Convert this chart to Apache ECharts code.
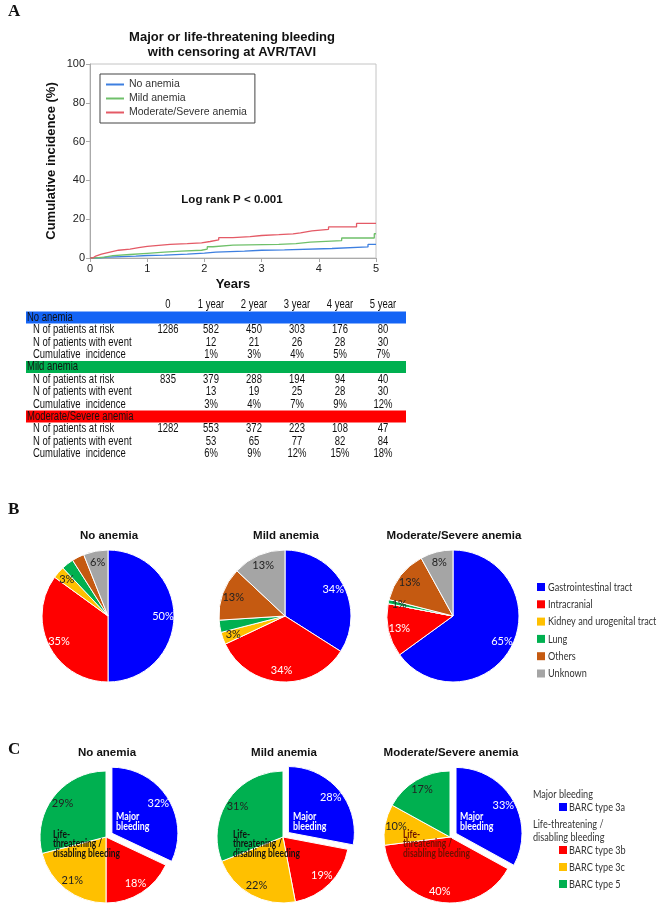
<!DOCTYPE html>
<html>
<head>
<meta charset="utf-8">
<script src="https://cdn.jsdelivr.net/npm/echarts@6/dist/echarts.min.js"></script>
<style>
html, body { margin: 0; padding: 0; background: #fff; }
#chart { width: 660px; height: 906px; }
</style>
</head>
<body>
<div id="chart"></div>
<script>
// ---- panel A: cumulative incidence curves, [years, %]
const groupNames = ['No anemia', 'Mild anemia', 'Moderate/Severe anemia'];
const noAnemiaCurve = [[0, 0], [0.15, 0.5], [0.3, 1], [0.8, 1.3], [1.0, 1.5], [1.3, 2], [1.7, 2.5], [2.0, 3], [2.2, 3.5], [2.7, 4], [3.0, 4.2], [3.4, 4.9], [4.23, 5.7], [4.86, 7], [5, 7]];
const mildCurve = [[0, 0], [0.1, 0.5], [0.25, 1.2], [0.4, 1.8], [0.7, 2.4], [1.0, 3], [1.3, 3.5], [1.6, 4], [1.95, 4.6], [2.05, 5.8], [2.15, 6.6], [2.5, 7], [3.3, 7.4], [3.6, 8.2], [3.85, 9], [4.4, 10.3], [4.97, 12.5], [5, 12.5]];
const modSevCurve = [[0, 0], [0.05, 1], [0.1, 2], [0.2, 3], [0.35, 4], [0.5, 4.6], [0.7, 5.3], [0.85, 6], [1.0, 6.5], [1.2, 7], [1.4, 7.4], [1.7, 7.8], [1.95, 8.5], [2.1, 9.3], [2.25, 10.5], [2.5, 11], [2.8, 11.6], [3.0, 12], [3.3, 12.4], [3.55, 13], [3.68, 14], [3.88, 14.8], [4.17, 16], [4.66, 17.8], [5, 17.8]];

// ---- risk table
const tableCols = ['0', '1 year', '2 year', '3 year', '4 year', '5 year'];
const rowLabels = ['N of patients at risk', 'N of patients with event', 'Cumulative  incidence'];
const atRisk = [[1286, 582, 450, 303, 176, 80], [835, 379, 288, 194, 94, 40], [1282, 553, 372, 223, 108, 47]];
const withEvent = [[null, 12, 21, 26, 28, 30], [null, 13, 19, 25, 28, 30], [null, 53, 65, 77, 82, 84]];
const cumIncidence = [[null, 1, 3, 4, 5, 7], [null, 3, 4, 7, 9, 12], [null, 6, 9, 12, 15, 18]];

// ---- panel B: bleeding site (%)
const siteNames = ['Gastrointestinal tract', 'Intracranial', 'Kidney and urogenital tract', 'Lung', 'Others', 'Unknown'];
const siteNoAnemia = [50, 35, 3, 3, 3, 6];
const siteMild = [34, 34, 3, 3, 13, 13];
const siteModSev = [65, 13, 0, 1, 13, 8];

// ---- panel C: BARC type (%)
const barcNames = ['BARC type 3a', 'BARC type 3b', 'BARC type 3c', 'BARC type 5'];
const barcNoAnemia = [32, 18, 21, 29];
const barcMild = [28, 19, 22, 31];
const barcModSev = [33, 40, 10, 17];

// styles
const lineColors = ['#3d7fe0', '#6fc06a', '#e45a66'];
const barColors = ['#1464f5', '#00b050', '#ff0000'];
const siteColors = ['#0000ff', '#ff0000', '#ffc000', '#00b050', '#c55a11', '#a5a5a5'];
const siteLabelColors = ['#fff', '#fff', '#222', '#222', '#222', '#222'];
const barcColors = ['#0000ff', '#ff0000', '#ffc000', '#00b050'];
const barcLabelColors = ['#fff', '#fff', '#222', '#222'];

const SANS = '"Liberation Sans", Arial, sans-serif';
const CAL = 'Lato, "Open Sans", sans-serif';
const SERIF = '"Liberation Serif", serif';

const pieXB = [108, 285, 453];
const pieXC = [106, 283, 450];
const pieYB = 616;
const pieYC = 837;
const pieR = 66;

// text element; sx squeezes the text horizontally around its anchor
function txt(text, x, y, opts) {
    opts = opts || {};
    return {
        type: 'text', silent: true, z: 100,
        x: x, y: y, scaleX: opts.sx || 1,
        style: {
            text: text, x: 0, y: 0,
            fill: opts.fill || '#111',
            fontSize: opts.size || 12,
            fontFamily: opts.family || SANS,
            fontWeight: opts.weight || 'normal',
            lineHeight: opts.lh,
            align: opts.align || 'left', textAlign: opts.align || 'left',
            verticalAlign: 'middle', textVerticalAlign: 'middle'
        }
    };
}
function box(x, y, w, h, color) {
    return { type: 'rect', silent: true, z: 90, shape: { x: x, y: y, width: w, height: h }, style: { fill: color } };
}

// ---- graphic: titles, table, annotations, legends
let elements = [];
elements.push(txt('A', 8, 12, { family: SERIF, weight: 'bold', size: 17 }));
elements.push(txt('B', 8, 510, { family: SERIF, weight: 'bold', size: 17 }));
elements.push(txt('C', 8, 750, { family: SERIF, weight: 'bold', size: 17 }));
elements.push(txt('Major or life-threatening bleeding\nwith censoring at AVR/TAVI', 232, 45, { weight: 'bold', size: 13, align: 'center', lh: 15 }));
elements.push(txt('Log rank P < 0.001', 232, 200, { weight: 'bold', size: 11.5, align: 'center' }));

const colX = [168, 211, 254, 297, 340, 383];
const rowH = 12.4;
const tSize = 12, tSx = 0.79;
let ty = 305;
tableCols.forEach(function (c, i) {
    elements.push(txt(c, colX[i], ty, { size: tSize, sx: tSx, align: 'center' }));
});
groupNames.forEach(function (g, gi) {
    ty += rowH;
    elements.push(box(26, ty - 6, 380, 12, barColors[gi]));
    elements.push(txt(g, 27, ty, { size: tSize, sx: tSx, fill: '#111' }));
    [atRisk[gi], withEvent[gi], cumIncidence[gi]].forEach(function (vals, ri) {
        ty += rowH;
        elements.push(txt(rowLabels[ri], 33, ty, { size: tSize, sx: tSx }));
        vals.forEach(function (v, ci) {
            if (v === null) return;
            elements.push(txt(ri === 2 ? v + '%' : String(v), colX[ci], ty, { size: tSize, sx: tSx, align: 'center' }));
        });
    });
});

groupNames.forEach(function (t, i) {
    elements.push(txt(t, pieXB[i] + 1, 536, { weight: 'bold', size: 11.5, align: 'center' }));
    elements.push(txt(t, pieXC[i] + 1, 753, { weight: 'bold', size: 11.5, align: 'center' }));
});

// panel C annotations inside the pies
const lifeShift = [-53, -50, -47];
pieXC.forEach(function (cx, i) {
    elements.push(txt('Major\nbleeding', cx + 10, 821.5, { family: CAL, weight: 'bold', size: 11, sx: 0.8, fill: '#fff', lh: 10 }));
    elements.push(txt('Life-\nthreatening /\ndisabling bleeding', cx + lifeShift[i], 844, { family: CAL, weight: 'bold', size: 10.5, sx: 0.8, fill: i === 2 ? '#6b1000' : '#111', lh: 9.5 }));
});

// panel B legend
const legSize = 12, legSx = 0.76;
siteNames.forEach(function (n, i) {
    const y = 587 + i * 17.3;
    elements.push(box(537, y - 4, 8, 8, siteColors[i]));
    elements.push(txt(n, 548, y, { family: CAL, size: legSize, sx: legSx, fill: '#333' }));
});

// panel C legend
const barcLegY = [807, 850, 867, 884];
elements.push(txt('Major bleeding', 533, 794, { family: CAL, size: legSize, sx: legSx, fill: '#333' }));
elements.push(txt('Life-threatening /\ndisabling bleeding', 533, 830.5, { family: CAL, size: legSize, sx: legSx, fill: '#333', lh: 13 }));
barcNames.forEach(function (n, i) {
    elements.push(box(559, barcLegY[i] - 4, 8, 8, barcColors[i]));
    elements.push(txt(n, 569, barcLegY[i], { family: CAL, size: legSize, sx: legSx, fill: '#333' }));
});

// ---- pies
function pieSeries(names, vals, colors, cx, cy, exploded) {
    return {
        type: 'pie', radius: pieR, center: [cx, cy], startAngle: 90, clockwise: true,
        selectedMode: exploded ? 'single' : false, selectedOffset: 7,
        label: { show: false }, labelLine: { show: false },
        emphasis: { disabled: true },
        itemStyle: { borderColor: '#fff', borderWidth: 1 },
        select: { itemStyle: { borderColor: '#fff', borderWidth: 1 } },
        data: names.map(function (n, i) {
            return { name: n, value: vals[i], selected: exploded && i === 0, itemStyle: { color: colors[i] } };
        })
    };
}
// transparent ring that only carries the percent labels, further out than the default
function labelSeries(names, vals, labelColors, cx, cy, exploded) {
    return {
        type: 'pie', radius: [40, 64], center: [cx, cy], startAngle: 90, clockwise: true,
        selectedMode: exploded ? 'single' : false, selectedOffset: 7, silent: true,
        labelLine: { show: false },
        emphasis: { disabled: true },
        itemStyle: { color: 'rgba(0,0,0,0)', borderWidth: 0 },
        select: { itemStyle: { color: 'rgba(0,0,0,0)', borderWidth: 0 } },
        label: {
            show: true, position: 'inside', fontFamily: CAL, fontSize: 11,
            formatter: function (p) { return p.value > 0 ? p.value + '%' : ''; }
        },
        data: names.map(function (n, i) {
            return { name: n, value: vals[i], selected: exploded && i === 0, label: { color: labelColors[i] } };
        })
    };
}

const siteSets = [siteNoAnemia, siteMild, siteModSev];
const barcSets = [barcNoAnemia, barcMild, barcModSev];
const curves = [noAnemiaCurve, mildCurve, modSevCurve];
let series = curves.map(function (c, i) {
    return {
        name: groupNames[i], type: 'line', step: 'end', symbol: 'none', data: c,
        lineStyle: { width: 1.3, color: lineColors[i] }, itemStyle: { color: lineColors[i] }
    };
});
siteSets.forEach(function (vals, i) { series.push(pieSeries(siteNames, vals, siteColors, pieXB[i], pieYB, false)); });
barcSets.forEach(function (vals, i) { series.push(pieSeries(barcNames, vals, barcColors, pieXC[i], pieYC, true)); });
siteSets.forEach(function (vals, i) { series.push(labelSeries(siteNames, vals, siteLabelColors, pieXB[i], pieYB, false)); });
barcSets.forEach(function (vals, i) { series.push(labelSeries(barcNames, vals, barcLabelColors, pieXC[i], pieYC, true)); });

const option = {
    animation: false,
    backgroundColor: '#fff',
    grid: { left: 90, top: 64, width: 286, height: 194, show: true, borderColor: '#c4c4c4', borderWidth: 1 },
    xAxis: {
        type: 'value', min: 0, max: 5, interval: 1,
        name: 'Years', nameLocation: 'middle', nameGap: 20,
        nameTextStyle: { fontFamily: SANS, fontWeight: 'bold', fontSize: 13, color: '#111' },
        axisLine: { lineStyle: { color: '#aaa' } },
        axisTick: { length: 4, lineStyle: { color: '#aaa' } },
        axisLabel: { fontFamily: SANS, fontSize: 11, color: '#222', margin: 5 },
        splitLine: { show: false }
    },
    yAxis: {
        type: 'value', min: 0, max: 100, interval: 20,
        name: 'Cumulative incidence (%)', nameLocation: 'middle', nameGap: 32,
        nameTextStyle: { fontFamily: SANS, fontWeight: 'bold', fontSize: 13, color: '#111' },
        axisLine: { show: true, lineStyle: { color: '#aaa' } },
        axisTick: { show: true, length: 4, lineStyle: { color: '#aaa' } },
        axisLabel: { fontFamily: SANS, fontSize: 11, color: '#222', margin: 5 },
        splitLine: { show: false }
    },
    legend: {
        data: groupNames, orient: 'vertical', left: 100, top: 74,
        icon: 'rect', itemWidth: 18, itemHeight: 2, itemGap: 3,
        padding: [5, 8, 5, 6], borderColor: '#444', borderWidth: 1, backgroundColor: '#fff',
        textStyle: { fontFamily: SANS, fontSize: 10.5, color: '#333' }, selectedMode: false
    },
    graphic: { elements: elements },
    series: series
};

const myChart = echarts.init(document.getElementById('chart'));
myChart.setOption(option);
</script>
</body>
</html>
